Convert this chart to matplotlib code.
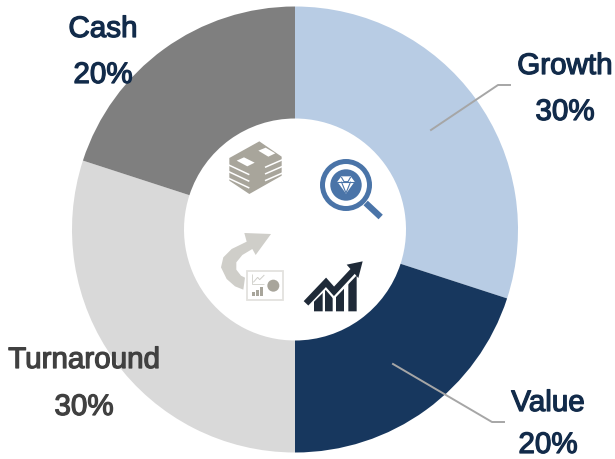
import matplotlib
matplotlib.use('Agg')
import matplotlib.pyplot as plt
import matplotlib.patheffects as pe
from matplotlib.patches import Circle, Polygon, Rectangle

categories = ['Growth', 'Value', 'Turnaround', 'Cash']
values = [30, 20, 30, 20]
colors = ['#b8cce4', '#17375e', '#d9d9d9', '#7f7f7f']
text_colors = ['#122b4a', '#122b4a', '#404040', '#122b4a']
label_pos = [(565, 67, 113), (548, 404, 446), (84, 361, 408), (103, 30, 76)]
leaders = [[(431, 131), (498, 86), (510, 86)], [(393, 365), (492, 423), (504, 423)]]

plt.rcParams['font.family'] = ['Liberation Sans', 'DejaVu Sans']
W, H = 615, 460
fig = plt.figure(figsize=(6.15, 4.6), dpi=100)
ax = fig.add_axes([0, 0, 1, 1])

ax.pie(values, colors=colors, startangle=90, counterclock=False, center=(295, H - 230.5),
       radius=223, wedgeprops=dict(width=112, linewidth=0), frame=True)
ax.set_xlim(0, W)
ax.set_ylim(0, H)
ax.set_aspect('equal')
ax.axis('off')


def pt(x, y):
    # zoomed crop coords -> axes coords
    return 200 + x / 3, H - (130 + y / 3)


def poly(points, color, z=3, ox=0, oy=0):
    ax.add_patch(Polygon([pt(a + ox, b + oy) for a, b in points], closed=True, fc=color, ec='none', zorder=z))


def line(points, color, lw, z=3, ox=0, oy=0):
    xy = [pt(a + ox, b + oy) for a, b in points]
    ax.plot([a for a, b in xy], [b for a, b in xy], color=color, lw=lw, zorder=z,
            solid_capstyle='butt', solid_joinstyle='miter')


# leader lines
for seg in leaders:
    ax.plot([a for a, b in seg], [H - b for a, b in seg], color='#a6a6a6', lw=1.4, zorder=4)

# labels
for name, val, col, (x, y1, y2) in zip(categories, values, text_colors, label_pos):
    for s, y in ((name, y1), (str(val) + '%', y2)):
        t = ax.text(x, H - y, s, color=col, fontsize=21.3, ha='center', va='center', zorder=5)
        t.set_path_effects([pe.withStroke(linewidth=0.9, foreground=col)])

# cash icon
money = '#a8a59b'
off = dict(ox=60, oy=15)
poly([(28, 72), (118, 22), (185, 68), (185, 125), (88, 180), (28, 140)], money, **off)
for y in (92, 112, 132):
    line([(24, y), (88, y + 30)], 'white', 1.1, 4, **off)
for y in (100, 120, 140):
    line([(135, y), (190, y - 24)], 'white', 1.1, 4, **off)
poly([(50, 80), (72, 70), (104, 86), (82, 97)], 'white', 4, **off)
poly([(115, 50), (137, 41), (166, 58), (145, 68)], 'white', 4, **off)

# growth icon (magnifier + diamond)
blue = '#4a74a8'
cx, cy = pt(438, 168)
ax.add_patch(Circle((cx, cy), 23.5, fc='white', ec=blue, lw=3.6, zorder=3))
ax.add_patch(Circle((cx, cy), 15.7, fc=blue, ec='none', zorder=3))
line([(497, 222), (542, 264)], blue, 4.5)
poly([(412, 158), (424, 142), (452, 142), (464, 158), (438, 194)], 'white')
line([(412, 158), (464, 158)], blue, 0.8, 4)
line([(424, 158), (438, 192), (452, 158)], blue, 0.8, 4)
line([(424, 144), (432, 158), (444, 158), (452, 144)], blue, 0.8, 4)

# value icon (bars + arrow)
dark = '#1f2a38'
off = dict(ox=300, oy=375)
bars = [[(42, 172), (42, 128), (68, 104), (68, 172)],
        [(75, 172), (75, 100), (98, 124), (98, 172)],
        [(108, 172), (108, 118), (132, 92), (132, 172)],
        [(145, 172), (145, 78), (170, 55), (170, 172)]]
for b in bars:
    poly(b, dark, **off)
line([(14, 152), (78, 88), (102, 116), (165, 50)], 'white', 6.5, 4, **off)
line([(18, 148), (78, 85), (102, 112), (160, 50)], dark, 4.6, 5, **off)
poly([(140, 32), (188, 22), (175, 72)], dark, 5, **off)

# turnaround icon (curved arrow + board)
arrow_col = '#cfcec9'
off = dict(ox=45, oy=300)
poly([(85, 182), (60, 172), (35, 150), (18, 115), (25, 85), (50, 60), (95, 38), (88, 12),
      (168, 15), (122, 78), (112, 60), (82, 78), (64, 100), (64, 122), (78, 140), (90, 146)],
     arrow_col, **off)
x0, y0 = pt(95 + 45, 213 + 300)
ax.add_patch(Rectangle((x0, y0), 108 / 3, 88 / 3, fc='white', ec='#e3e2de', lw=1.3, zorder=4))
line([(112, 135), (112, 165), (148, 165)], '#cfcec9', 0.6, 5, **off)
line([(115, 160), (128, 145), (134, 152), (148, 138)], '#cfcec9', 0.7, 5, **off)
for x1, top in ((112, 190), (124, 183), (136, 175)):
    poly([(x1, 200), (x1, top), (x1 + 9, top), (x1 + 9, 200)], '#a8a59b', 5, **off)
cx, cy = pt(175 + 45, 170 + 300)
ax.add_patch(Circle((cx, cy), 6, fc='#a8a59b', ec='none', zorder=5))

fig.savefig('out.png', dpi=100, facecolor='white')
